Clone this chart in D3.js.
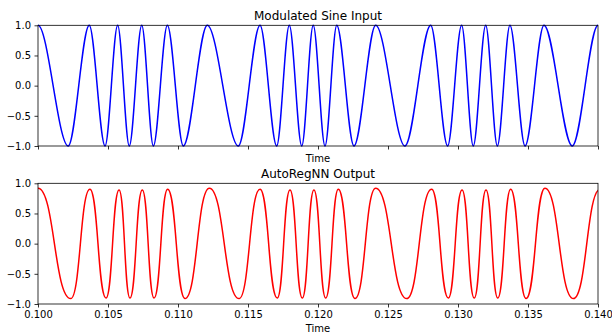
<!DOCTYPE html>
<html>
<head>
<meta charset="utf-8">
<script src="https://cdn.jsdelivr.net/npm/d3@7"></script>
<style>
  body { margin: 0; background: #fff; }
  svg text { font-family: "DejaVu Sans", sans-serif; fill: #000; }
</style>
</head>
<body>
<svg id="chart" width="612" height="333"></svg>
<script>
// extrema of the input signal (time, value)
// first and last points sit just outside the visible range so the ends stay smooth
const inputTimes = [0.09829, 0.10000, 0.10216, 0.10366, 0.10479, 0.10569, 0.10652, 0.10741, 0.10824,
  0.10924, 0.11038, 0.11209, 0.11431, 0.11586, 0.11705, 0.11795, 0.11884, 0.11966, 0.12050,
  0.12134, 0.12257, 0.12412, 0.12621, 0.12805, 0.12926, 0.13026, 0.13109, 0.13198, 0.13281,
  0.13371, 0.13479, 0.13614, 0.13816, 0.14000, 0.14220];
const inputValues = [-1, 1, -1, 1, -1, 1, -1, 1, -1,
  1, -1, 1, -1, 1, -1, 1, -1, 1, -1,
  1, -1, 1, -1, 1, -1, 1, -1, 1, -1,
  1, -1, 1, -1, 1, -1];

// extrema of the network output
const outputTimes = [0.10000, 0.10234, 0.10371, 0.10486, 0.10579, 0.10657, 0.10745, 0.10829,
  0.10926, 0.11050, 0.11224, 0.11436, 0.11586, 0.11709, 0.11800, 0.11888, 0.11971, 0.12055,
  0.12145, 0.12264, 0.12412, 0.12634, 0.12812, 0.12931, 0.13029, 0.13116, 0.13200, 0.13284,
  0.13376, 0.13486, 0.13621, 0.13824, 0.14015, 0.14230];
const outputValues = [0.92, -0.91, 0.90, -0.90, 0.89, -0.90, 0.89, -0.90,
  0.90, -0.91, 0.92, -0.91, 0.90, -0.90, 0.89, -0.90, 0.89, -0.90,
  0.90, -0.91, 0.92, -0.91, 0.90, -0.90, 0.89, -0.90, 0.89, -0.90,
  0.90, -0.91, 0.92, -0.91, 0.90, -0.91];

const xTicks = [0.100, 0.105, 0.110, 0.115, 0.120, 0.125, 0.130, 0.135, 0.140];
const yTicks = [-1.0, -0.5, 0.0, 0.5, 1.0];

const svg = d3.select('#chart');
const left = 38, right = 598;

const x = d3.scaleLinear().domain([0.1, 0.14]).range([left, right]);

const panels = [
  { id: 'top', top: 25.3, bottom: 146, title: 'Modulated Sine Input', times: inputTimes, values: inputValues,
    color: '#0000ff', curve: d3.curveMonotoneX, showXLabels: false },
  { id: 'bot', top: 183.3, bottom: 304, title: 'AutoRegNN Output', times: outputTimes, values: outputValues,
    color: '#ff0000', curve: d3.curveBumpX, showXLabels: true }
];

const fmt = d3.format('.1f');
const minus = s => s.replace('-', '\u2212');

panels.forEach(p => {
  const y = d3.scaleLinear().domain([-1, 1]).range([p.bottom, p.top]);
  const g = svg.append('g');

  // clip only horizontally so peaks touching the frame keep their full stroke
  svg.append('clipPath').attr('id', 'clip-' + p.id)
    .append('rect')
    .attr('x', left).attr('y', p.top - 4)
    .attr('width', right - left).attr('height', p.bottom - p.top + 8);

  const pts = p.times.map((t, i) => [t, p.values[i]]);
  const line = d3.line().x(d => x(d[0])).y(d => y(d[1])).curve(p.curve);

  g.append('path')
    .datum(pts)
    .attr('clip-path', `url(#clip-${p.id})`)
    .attr('fill', 'none')
    .attr('stroke', p.color)
    .attr('stroke-width', 1.5)
    .attr('d', line);

  // axes
  const xAxis = d3.axisBottom(x).tickValues(xTicks).tickSize(3.5).tickPadding(3.5)
    .tickFormat(p.showXLabels ? d3.format('.3f') : '');
  const gx = g.append('g').attr('transform', `translate(0,${p.bottom})`).call(xAxis);
  const yAxis = d3.axisLeft(y).tickValues(yTicks).tickSize(3.5).tickPadding(3.5)
    .tickFormat(d => minus(fmt(d)));
  const gy = g.append('g').attr('transform', `translate(${left},0)`).call(yAxis);

  [gx, gy].forEach(a => {
    a.select('.domain').remove();
    a.selectAll('.tick line').attr('stroke', '#000').attr('stroke-width', 0.8);
    a.selectAll('.tick text').style('font-size', '10px').attr('fill', '#000');
  });

  // frame
  g.append('rect')
    .attr('x', left).attr('y', p.top)
    .attr('width', right - left).attr('height', p.bottom - p.top)
    .attr('fill', 'none').attr('stroke', '#000').attr('stroke-width', 0.8);

  g.append('text')
    .attr('x', (left + right) / 2).attr('y', p.top - 5.5)
    .attr('text-anchor', 'middle')
    .style('font-size', '12px')
    .text(p.title);

  g.append('text')
    .attr('x', (left + right) / 2).attr('y', p.id === 'top' ? 162 : 332)
    .attr('text-anchor', 'middle')
    .style('font-size', '10px')
    .text('Time');
});
</script>
</body>
</html>
